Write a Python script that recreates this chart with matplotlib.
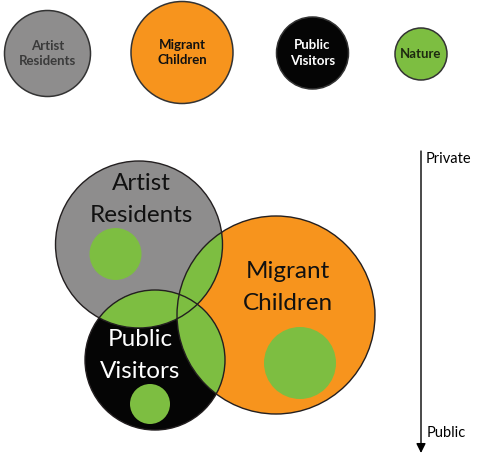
import matplotlib.pyplot as plt
from matplotlib.patches import Circle

plt.rcParams['font.family'] = ['Lato', 'DejaVu Sans']

# legend row at the top
legend_labels = ['Artist\nResidents', 'Migrant\nChildren', 'Public\nVisitors', 'Nature']
legend_x = [47.5, 182, 312.5, 421]
legend_y = [53.5, 52.5, 53, 54]
legend_r = [43, 51, 36, 26]
legend_text_colors = ['#3a3a3a', '#111111', 'white', '#1e2a10']

# main diagram: gray, orange, black groups
group_labels = ['Artist\nResidents', 'Migrant\nChildren', 'Public\nVisitors']
group_x = [139, 276, 155]
group_y = [244.5, 315, 360]
group_r = [83.5, 99, 70]
group_label_x = [141, 288, 140]
group_label_y = [199.5, 287.5, 355.5]
group_text_colors = ['#111111', '#111111', 'white']

# nature spots inside each group
nature_x = [115.5, 300, 150]
nature_y = [254, 363, 404]
nature_r = [26, 36, 20]

colors = ['#8e8d8d', '#f7941d', '#050505']
green = '#7dbe41'
edge = '#231f20'

fig = plt.figure(figsize=(4.87, 4.59), dpi=100)
ax = fig.add_axes([0, 0, 1, 1])
ax.set_xlim(0, 487)
ax.set_ylim(459, 0)
ax.set_aspect('equal')
ax.axis('off')

# top legend
for lab, x, y, r, c, tc in zip(legend_labels, legend_x, legend_y, legend_r,
                               colors + [green], legend_text_colors):
    ax.add_patch(Circle((x, y), r, facecolor=c, edgecolor='#333333', lw=1.1))
    ax.text(x, y, lab, ha='center', va='center', fontsize=9.5, fontweight='bold',
            color=tc, linespacing=1.35)

# group fills
circles = []
for x, y, r, c in zip(group_x, group_y, group_r, colors):
    p = Circle((x, y), r, facecolor=c, edgecolor='none')
    ax.add_patch(p)
    circles.append(p)

# pairwise overlaps in green
for i, j in [(0, 1), (0, 2), (1, 2)]:
    ov = Circle((group_x[j], group_y[j]), group_r[j], facecolor=green, edgecolor='none')
    ax.add_patch(ov)
    ov.set_clip_path(circles[i])

# nature spots
for x, y, r in zip(nature_x, nature_y, nature_r):
    ax.add_patch(Circle((x, y), r, facecolor=green, edgecolor='none'))

# outlines on top
for x, y, r in zip(group_x, group_y, group_r):
    ax.add_patch(Circle((x, y), r, fill=False, edgecolor=edge, lw=1.0))

for lab, x, y, tc in zip(group_labels, group_label_x, group_label_y, group_text_colors):
    ax.text(x, y, lab, ha='center', va='center', fontsize=17.5, color=tc, linespacing=1.6)

# private -> public arrow
ax.annotate('', xy=(421, 453), xytext=(421, 151),
            arrowprops=dict(arrowstyle='-|>', color='black', lw=1.0,
                            mutation_scale=14, shrinkA=0, shrinkB=0))
ax.text(426, 159, 'Private', ha='left', va='center', fontsize=10.5)
ax.text(427, 433, 'Public', ha='left', va='center', fontsize=10.5)

fig.savefig('out.png', dpi=100)
